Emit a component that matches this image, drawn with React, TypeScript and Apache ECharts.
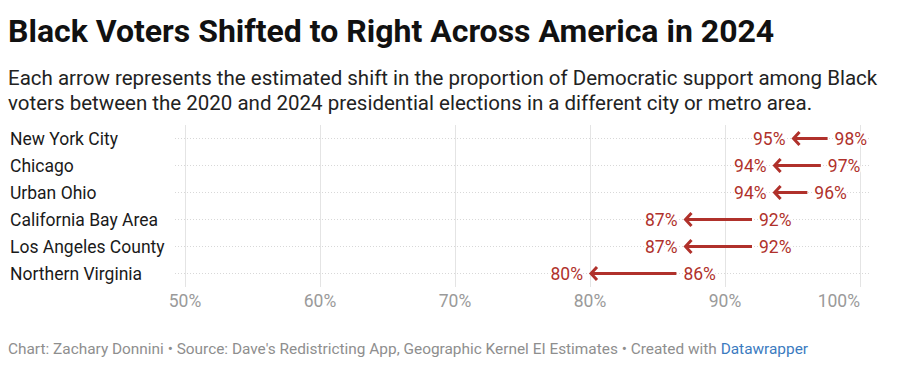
import React, { useEffect, useRef } from "react";
import * as echarts from "echarts";

const categories = [
  "New York City",
  "Chicago",
  "Urban Ohio",
  "California Bay Area",
  "Los Angeles County",
  "Northern Virginia",
];
// Estimated shares (labels show rounded values)
const support2020 = [97.6, 97.1, 96.1, 92.0, 92.0, 86.4];
const support2024 = [95.0, 93.6, 93.6, 87.0, 87.0, 80.0];
const xTicks = [50, 60, 70, 80, 90, 100];

const TITLE = "Black Voters Shifted to Right Across America in 2024";
const SUBTITLE =
  "Each arrow represents the estimated shift in the proportion of Democratic support among Black\nvoters between the 2020 and 2024 presidential elections in a different city or metro area.";

const RED = "#b0312b";
const FONT = "Roboto, 'Noto Sans', sans-serif";

export default function App() {
  const ref = useRef<HTMLDivElement>(null);

  useEffect(() => {
    document.body.style.margin = "0";
    const chart = echarts.init(ref.current!, null, { renderer: "svg" });
    const data = categories.map((c, i) => [support2020[i], support2024[i], i]);

    const option: any = {
      animation: false,
      backgroundColor: "#ffffff",
      textStyle: { fontFamily: FONT },
      grid: { left: 185, right: 40, top: 125, height: 162 },
      xAxis: {
        type: "value",
        min: xTicks[0],
        max: xTicks[xTicks.length - 1],
        interval: 10,
        axisLine: { show: false },
        axisTick: { show: false },
        splitLine: { show: true, lineStyle: { color: "#e4e4e4", width: 1 } },
        axisLabel: {
          formatter: "{value}%",
          color: "#9a9a9a",
          fontSize: 17.5,
          fontFamily: FONT,
          margin: 5,
          alignMaxLabel: "right",
        },
      },
      yAxis: {
        type: "category",
        data: categories,
        inverse: true,
        axisLine: { show: false },
        axisTick: { show: false },
        splitLine: { show: false },
        axisLabel: {
          align: "left",
          margin: 175,
          color: "#1a1a1a",
          fontSize: 17.5,
          fontFamily: FONT,
        },
      },
      series: [
        {
          type: "custom",
          data,
          encode: { x: [0, 1], y: 2 },
          clip: false,
          renderItem: (params: any, api: any) => {
            const from = api.value(0);
            const to = api.value(1);
            const idx = api.value(2);
            const p1 = api.coord([from, idx]);
            const p2 = api.coord([to, idx]);
            const cs = params.coordSys;
            const y = p1[1];
            return {
              type: "group",
              children: [
                {
                  type: "line",
                  shape: { x1: cs.x - 10, y1: y, x2: cs.x + cs.width + 10, y2: y },
                  style: { stroke: "#d8d8d8", lineWidth: 1, lineDash: [1, 2] },
                  z2: 1,
                },
                {
                  type: "line",
                  shape: { x1: p1[0], y1: y, x2: p2[0] + 2, y2: y },
                  style: { stroke: RED, lineWidth: 3 },
                  z2: 5,
                },
                {
                  type: "polyline",
                  shape: {
                    points: [
                      [p2[0] + 7, y - 6.5],
                      [p2[0] + 1, y],
                      [p2[0] + 7, y + 6.5],
                    ],
                  },
                  style: { stroke: RED, lineWidth: 3, fill: "none" },
                  z2: 5,
                },
                {
                  type: "text",
                  x: p1[0] + 7,
                  y: y,
                  style: {
                    text: Math.round(from) + "%",
                    fill: RED,
                    font: "17.5px " + FONT,
                    textAlign: "left",
                    textVerticalAlign: "middle",
                    stroke: "#ffffff",
                    lineWidth: 3,
                  },
                  z2: 6,
                },
                {
                  type: "text",
                  x: p2[0] - 7,
                  y: y,
                  style: {
                    text: Math.round(to) + "%",
                    fill: RED,
                    font: "17.5px " + FONT,
                    textAlign: "right",
                    textVerticalAlign: "middle",
                    stroke: "#ffffff",
                    lineWidth: 3,
                  },
                  z2: 6,
                },
              ],
            };
          },
        },
      ],
      graphic: [
        {
          type: "text",
          left: 8,
          top: 15,
          style: {
            text: TITLE,
            fill: "#111111",
            font: "bold 32px " + FONT,
          },
        },
        {
          type: "text",
          left: 8,
          top: 65,
          style: {
            text: SUBTITLE,
            fill: "#222222",
            font: "20.5px " + FONT,
            lineHeight: 25,
          },
        },
        {
          type: "text",
          left: 8,
          top: 341,
          style: {
            text: "{g|Chart: Zachary Donnini • Source: Dave's Redistricting App, Geographic Kernel EI Estimates • Created with }{b|Datawrapper}",
            rich: {
              g: { fill: "#8e8e8e", font: "15.4px " + FONT },
              b: { fill: "#3b7bbf", font: "15.4px " + FONT },
            },
          },
        },
      ],
    };

    chart.setOption(option);
    return () => chart.dispose();
  }, []);

  return <div ref={ref} style={{ width: 900, height: 368 }} />;
}
